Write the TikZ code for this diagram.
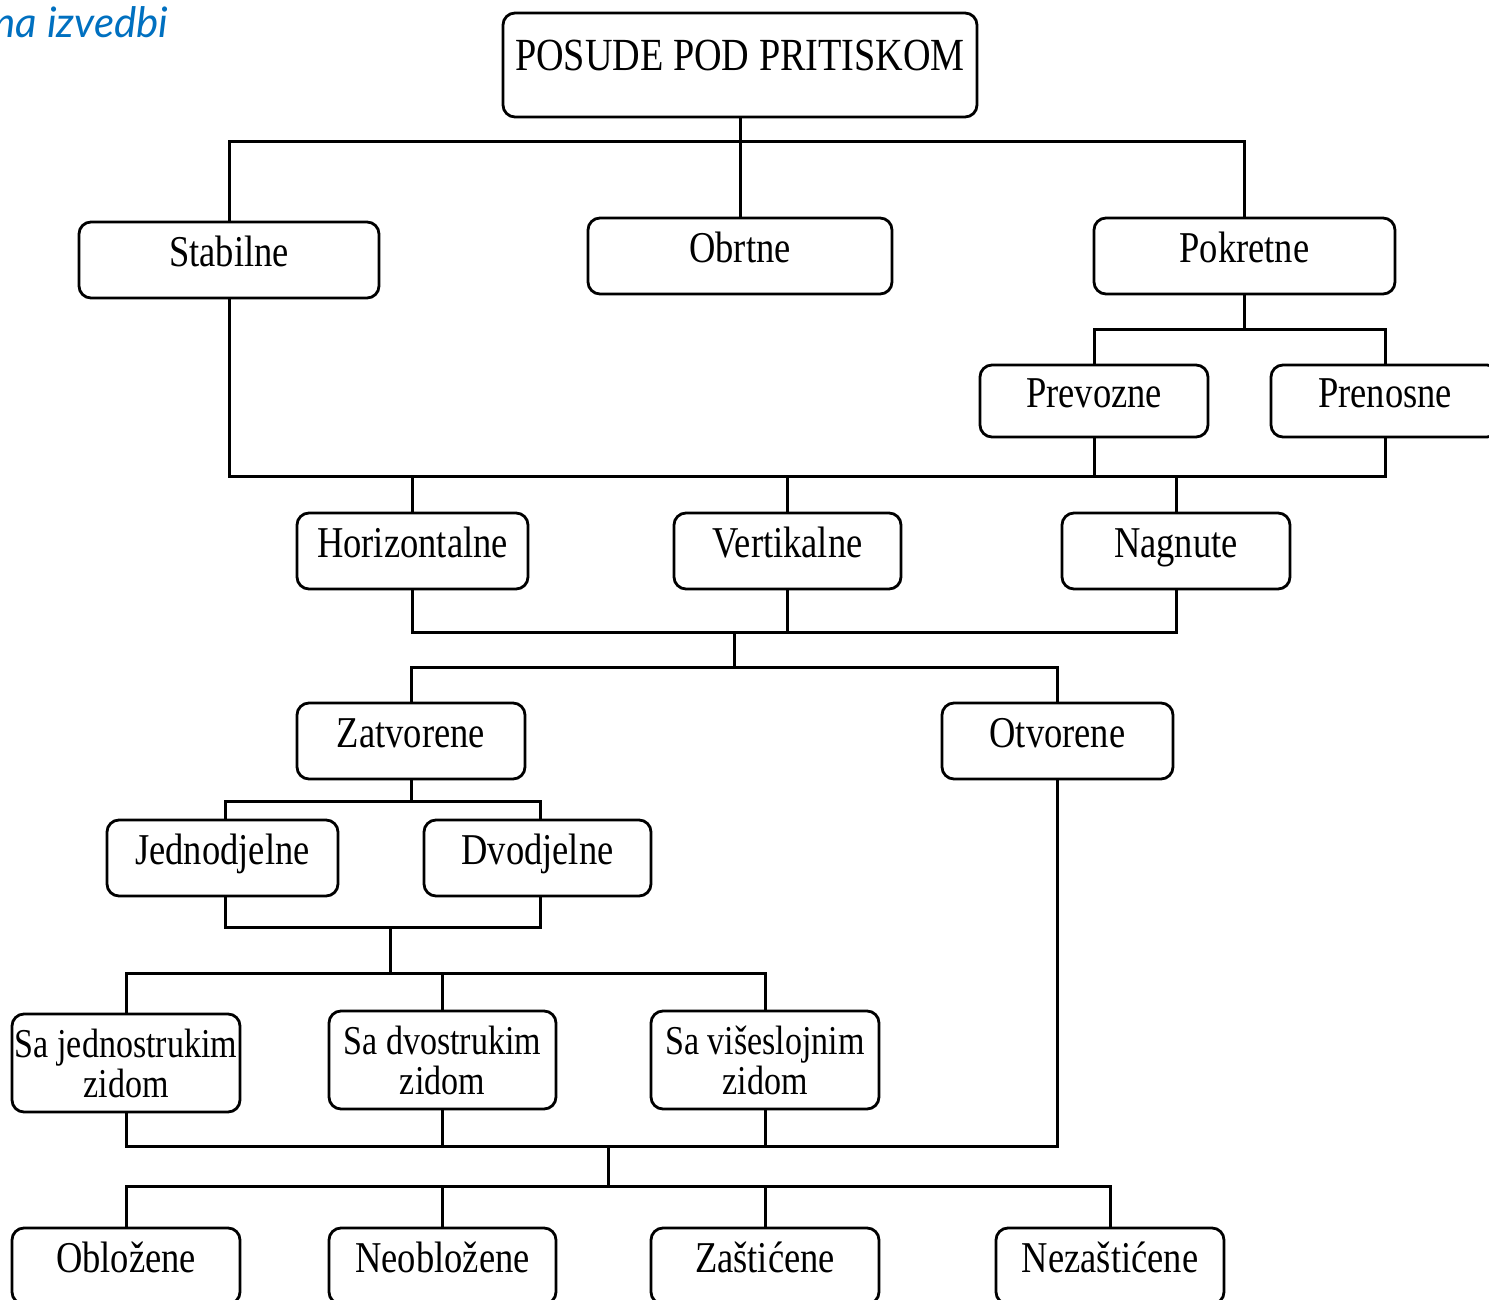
\documentclass[tikz,border=0pt]{standalone}
\usepackage{fontspec}
\setmainfont{Liberation Serif}[FakeStretch=0.83]
\newfontfamily\bluefont{Lato}
\definecolor{headblue}{HTML}{0070C0}
\tikzset{
  x=1pt, y=-1pt,
  box/.style={draw, line width=2.8pt, rounded corners=12pt, minimum height=76pt,
    inner sep=0pt, font=\fontsize{44}{48}\selectfont, text height=30pt, text depth=18pt},
  twobox/.style={draw, line width=2.8pt, rounded corners=12pt, minimum height=98pt,
    minimum width=228pt, inner sep=0pt, align=center, font=\fontsize{41}{40}\selectfont},
  conn/.style={line width=3pt, line cap=rect}
}
\begin{document}
\begin{tikzpicture}
\useasboundingbox (0,0) rectangle (1489,1300);
\clip (0,0) rectangle (1489,1300);
\fill[white] (0,0) rectangle (1489,1300);

\node[anchor=base east, text=headblue, font=\bluefont\itshape\fontsize{42}{46}\selectfont] (head) at (172,38) {na izvedbi};

\node[box, minimum width=474pt, font=\fontsize{46}{50}\selectfont, minimum height=104pt] (pos) at (740,65) {POSUDE POD PRITISKOM};

\node[box, minimum width=300pt] (stab) at (229,260) {Stabilne};
\node[box, minimum width=304pt] (obr) at (740,256) {Obrtne};
\node[box, minimum width=301pt] (pok) at (1244.5,256) {Pokretne};

\node[box, minimum width=228pt, minimum height=72pt] (prev) at (1094,401) {Prevozne};
\node[box, minimum width=228pt, minimum height=72pt] (pren) at (1385,401) {Prenosne};

\node[box, minimum width=231pt] (hor) at (412.5,551) {Horizontalne};
\node[box, minimum width=227pt] (ver) at (787.5,551) {Vertikalne};
\node[box, minimum width=228pt] (nag) at (1176,551) {Nagnute};

\node[box, minimum width=228pt] (zat) at (411,741) {Zatvorene};
\node[box, minimum width=231pt] (otv) at (1057.5,741) {Otvorene};

\node[box, minimum width=231pt] (jed) at (222.5,858) {Jednodjelne};
\node[box, minimum width=227pt] (dvo) at (537.5,858) {Dvodjelne};

\node[twobox] (sjed) at (126,1063) {Sa jednostrukim\\zidom};
\node[twobox, minimum width=227pt] (sdvo) at (442.5,1060) {Sa dvostrukim\\zidom};
\node[twobox] (svis) at (765,1060) {Sa višeslojnim\\zidom};

\node[box, minimum width=228pt] (obl) at (126,1266) {Obložene};
\node[box, minimum width=227pt] (neo) at (442.5,1266) {Neobložene};
\node[box, minimum width=228pt] (zas) at (765,1266) {Zaštićene};
\node[box, minimum width=228pt] (nez) at (1110,1266) {Nezaštićene};

% bus helper coordinates
\coordinate (b1) at (740,142);
\coordinate (b2) at (1246,329);
\coordinate (b3) at (0,476);
\coordinate (b4) at (0,632);
\coordinate (b5) at (734,667);
\coordinate (b6) at (0,801);
\coordinate (b7) at (0,927);
\coordinate (b8) at (390,973);
\coordinate (b9) at (0,1146);
\coordinate (b10) at (608,1186);

% level 1
\draw[conn] (pos.south) -- (b1);
\draw[conn] (stab.north) |- (b1) -| (pok.north);
\draw[conn] (b1) -- (obr.north);

% Pokretne split
\draw[conn] (pok.south) -- (pok.south |- b2);
\draw[conn] (prev.north) |- (pok.south |- b2) -| (pren.north);

% orientation bus
\draw[conn] (stab.south) |- (pren.south |- b3) -- (pren.south);
\draw[conn] (prev.south) -- (prev.south |- b3);
\draw[conn] (hor.north) -- (hor.north |- b3);
\draw[conn] (ver.north) -- (ver.north |- b3);
\draw[conn] (nag.north) -- (nag.north |- b3);

% closed / open
\draw[conn] (hor.south) |- (nag.south |- b4) -- (nag.south);
\draw[conn] (ver.south) -- (ver.south |- b4);
\draw[conn] (b5 |- b4) -- (b5);
\draw[conn] (zat.north) |- (b5) -| (otv.north);

% single / double part
\draw[conn] (zat.south) -- (zat.south |- b6);
\draw[conn] ([xshift=2.5pt]jed.north) |- (zat.south |- b6) -| ([xshift=2.5pt]dvo.north);
\draw[conn] ([xshift=2.5pt]jed.south) |- ([xshift=2.5pt]dvo.south |- b7) -- ([xshift=2.5pt]dvo.south);
\draw[conn] (b8 |- b7) -- (b8);
\draw[conn] (sjed.north) |- (b8) -| (svis.north);
\draw[conn] (sdvo.north) -- (sdvo.north |- b8);

% wall bus
\draw[conn] (sjed.south) |- (otv.south |- b9) -- (otv.south);
\draw[conn] (sdvo.south) -- (sdvo.south |- b9);
\draw[conn] (svis.south) -- (svis.south |- b9);
\draw[conn] (b10 |- b9) -- (b10);
\draw[conn] (obl.north) |- (b10) -| (nez.north);
\draw[conn] (neo.north) -- (neo.north |- b10);
\draw[conn] (zas.north) -- (zas.north |- b10);
\end{tikzpicture}
\end{document}
